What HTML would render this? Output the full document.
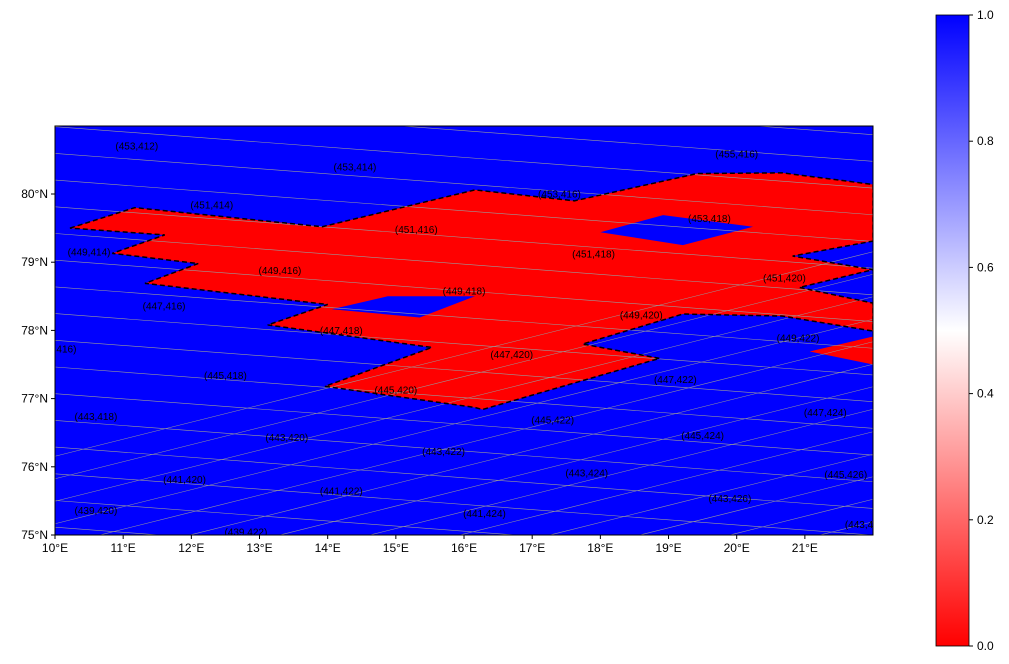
<!DOCTYPE html>
<html style="width:1009px;height:664px;overflow:hidden"><head><meta charset="utf-8"><style>
body{margin:0;background:#fff;font-family:"Liberation Sans",sans-serif;overflow:hidden;width:1009px;height:664px}
svg{display:block}
svg text{font-family:"Liberation Sans",sans-serif}
</style></head><body>
<svg id="c" width="1009" height="664" xmlns="http://www.w3.org/2000/svg">
<defs>
<linearGradient id="cb" x1="0" y1="1" x2="0" y2="0">
<stop offset="0" stop-color="#ff0000"/><stop offset="0.5" stop-color="#ffffff"/><stop offset="1" stop-color="#0000ff"/>
</linearGradient>
<clipPath id="ax"><rect x="55" y="126" width="818" height="409"/></clipPath>
</defs>
<g id="plot" clip-path="url(#ax)"></g>
<rect x="55" y="126" width="818" height="409" fill="none" stroke="#000" stroke-width="1"/>
<g id="ticks"></g>
<rect x="936" y="15" width="33" height="631" fill="url(#cb)" stroke="#000" stroke-width="0.8"/>
<g id="cbt"></g>
</svg>
<script>
const lonTicks=[10,11,12,13,14,15,16,17,18,19,20,21];
const latTicks=[75,76,77,78,79,80];
const cbTicks=[0,0.2,0.4,0.6,0.8,1.0];
const cellLabels=["(453,412)","(453,414)","(455,416)","(453,416)","(451,414)","(453,418)","(449,414)","(451,416)","(451,418)","(449,416)","(451,420)","(449,418)","(447,416)","(449,420)","(447,418)","(449,422)","(445,416)","(447,420)","(445,418)","(447,422)","(445,420)","(443,418)","(447,424)","(445,422)","(443,420)","(445,424)","(443,422)","(445,426)","(441,420)","(443,424)","(441,422)","(443,426)","(439,420)","(441,424)","(443,428)","(439,422)"];
const labelLon=[11.2,14.4,20.0,17.4,12.3,19.6,10.5,15.3,17.9,13.3,20.7,16.0,11.6,18.6,14.2,20.9,10.0,16.7,12.5,19.1,15.0,10.6,21.3,17.3,13.4,19.5,15.7,21.6,11.9,17.8,14.2,19.9,10.6,16.3,21.9,12.8];
const labelLat=[80.70,80.39,80.58,79.99,79.83,79.63,79.14,79.47,79.11,78.87,78.76,78.57,78.35,78.22,77.99,77.88,77.72,77.64,77.33,77.27,77.12,76.73,76.79,76.68,76.42,76.45,76.22,75.88,75.81,75.90,75.64,75.53,75.35,75.31,75.15,75.04];
const redLon=[[10.22,11.17,13.92,16.16,17.62,19.42,20.67,22.0,22.0,20.82,22.0,20.92,22.0,22.0,20.67,19.21,17.74,18.87,16.27,16.16,13.96,15.53,13.12,14.0,11.32,12.1,10.84,11.61],[21.07,22.0,22.0]];
const redLat=[[79.50,79.80,79.52,80.06,79.90,80.30,80.31,80.14,79.31,79.09,78.89,78.63,78.40,77.99,78.21,78.24,77.80,77.59,76.84,76.87,77.18,77.75,78.08,78.38,78.69,78.98,79.13,79.40],[77.69,77.91,77.50]];
const blueHoleLon=[[18.0,18.92,20.24,19.21],[14.06,14.88,16.16,15.35]];
const blueHoleLat=[[79.44,79.69,79.52,79.25],[78.31,78.50,78.50,78.19]];
const X=lon=>55+(lon-10)*68.17, Y=lat=>535-(lat-75)*68.2;
const CB=v=>646-v*631;
const NS="http://www.w3.org/2000/svg";
function mk(t,a,p){const e=document.createElementNS(NS,t);for(const k in a)e.setAttribute(k,a[k]);p.appendChild(e);return e;}
const plot=document.getElementById('plot');
const bg=mk('rect',{x:55,y:126,width:818,height:409,fill:'#0000ff'},plot);


redLon.forEach((L,i)=>{const p=mk('polygon',{points:L.map((v,j)=>X(v)+','+Y(redLat[i][j])).join(' '),fill:'#ff0000'},plot);

});
blueHoleLon.forEach((L,i)=>{const p=mk('polygon',{points:L.map((v,j)=>X(v)+','+Y(blueHoleLat[i][j])).join(' '),fill:'#0000ff'},plot);

});
const gg=mk('g',{stroke:'#9a9a9a','stroke-width':0.6,fill:'none'},plot);


for(let k=-10;k<25;k++){const y0=100+k*26.7;mk('line',{x1:55,y1:y0,x2:873,y2:y0+0.075*818},gg);}
for(let k=-4;k<22;k++){const x0=k*90;mk('line',{x1:x0,y1:560,x2:x0+1800,y2:560-0.25*1800},gg);}
const d=mk('polygon',{points:redLon[0].map((v,j)=>X(v)+','+Y(redLat[0][j])).join(' '),fill:'none',stroke:'#000','stroke-width':1.5,'stroke-dasharray':'5,3'},plot);


cellLabels.forEach((s,i)=>{const t=mk('text',{x:X(labelLon[i]),y:Y(labelLat[i])+3,'font-size':10,'text-anchor':'middle',fill:'#000'},plot);t.textContent=s;

});
const tk=document.getElementById('ticks');
lonTicks.forEach(v=>{mk('line',{x1:X(v),y1:535,x2:X(v),y2:539,stroke:'#000'},tk);const t=mk('text',{x:X(v),y:552,'font-size':12,'text-anchor':'middle'},tk);t.textContent=v+'°E';

});
latTicks.forEach(v=>{mk('line',{x1:51,y1:Y(v),x2:55,y2:Y(v),stroke:'#000'},tk);const t=mk('text',{x:48,y:Y(v)+4,'font-size':12,'text-anchor':'end'},tk);t.textContent=v+'°N';

});
const cb=document.getElementById('cbt');
cbTicks.forEach(v=>{mk('line',{x1:969,y1:CB(v),x2:973,y2:CB(v),stroke:'#000'},cb);const t=mk('text',{x:977,y:CB(v)+4,'font-size':12},cb);t.textContent=v.toFixed(1);

});
</script>
</body></html>
